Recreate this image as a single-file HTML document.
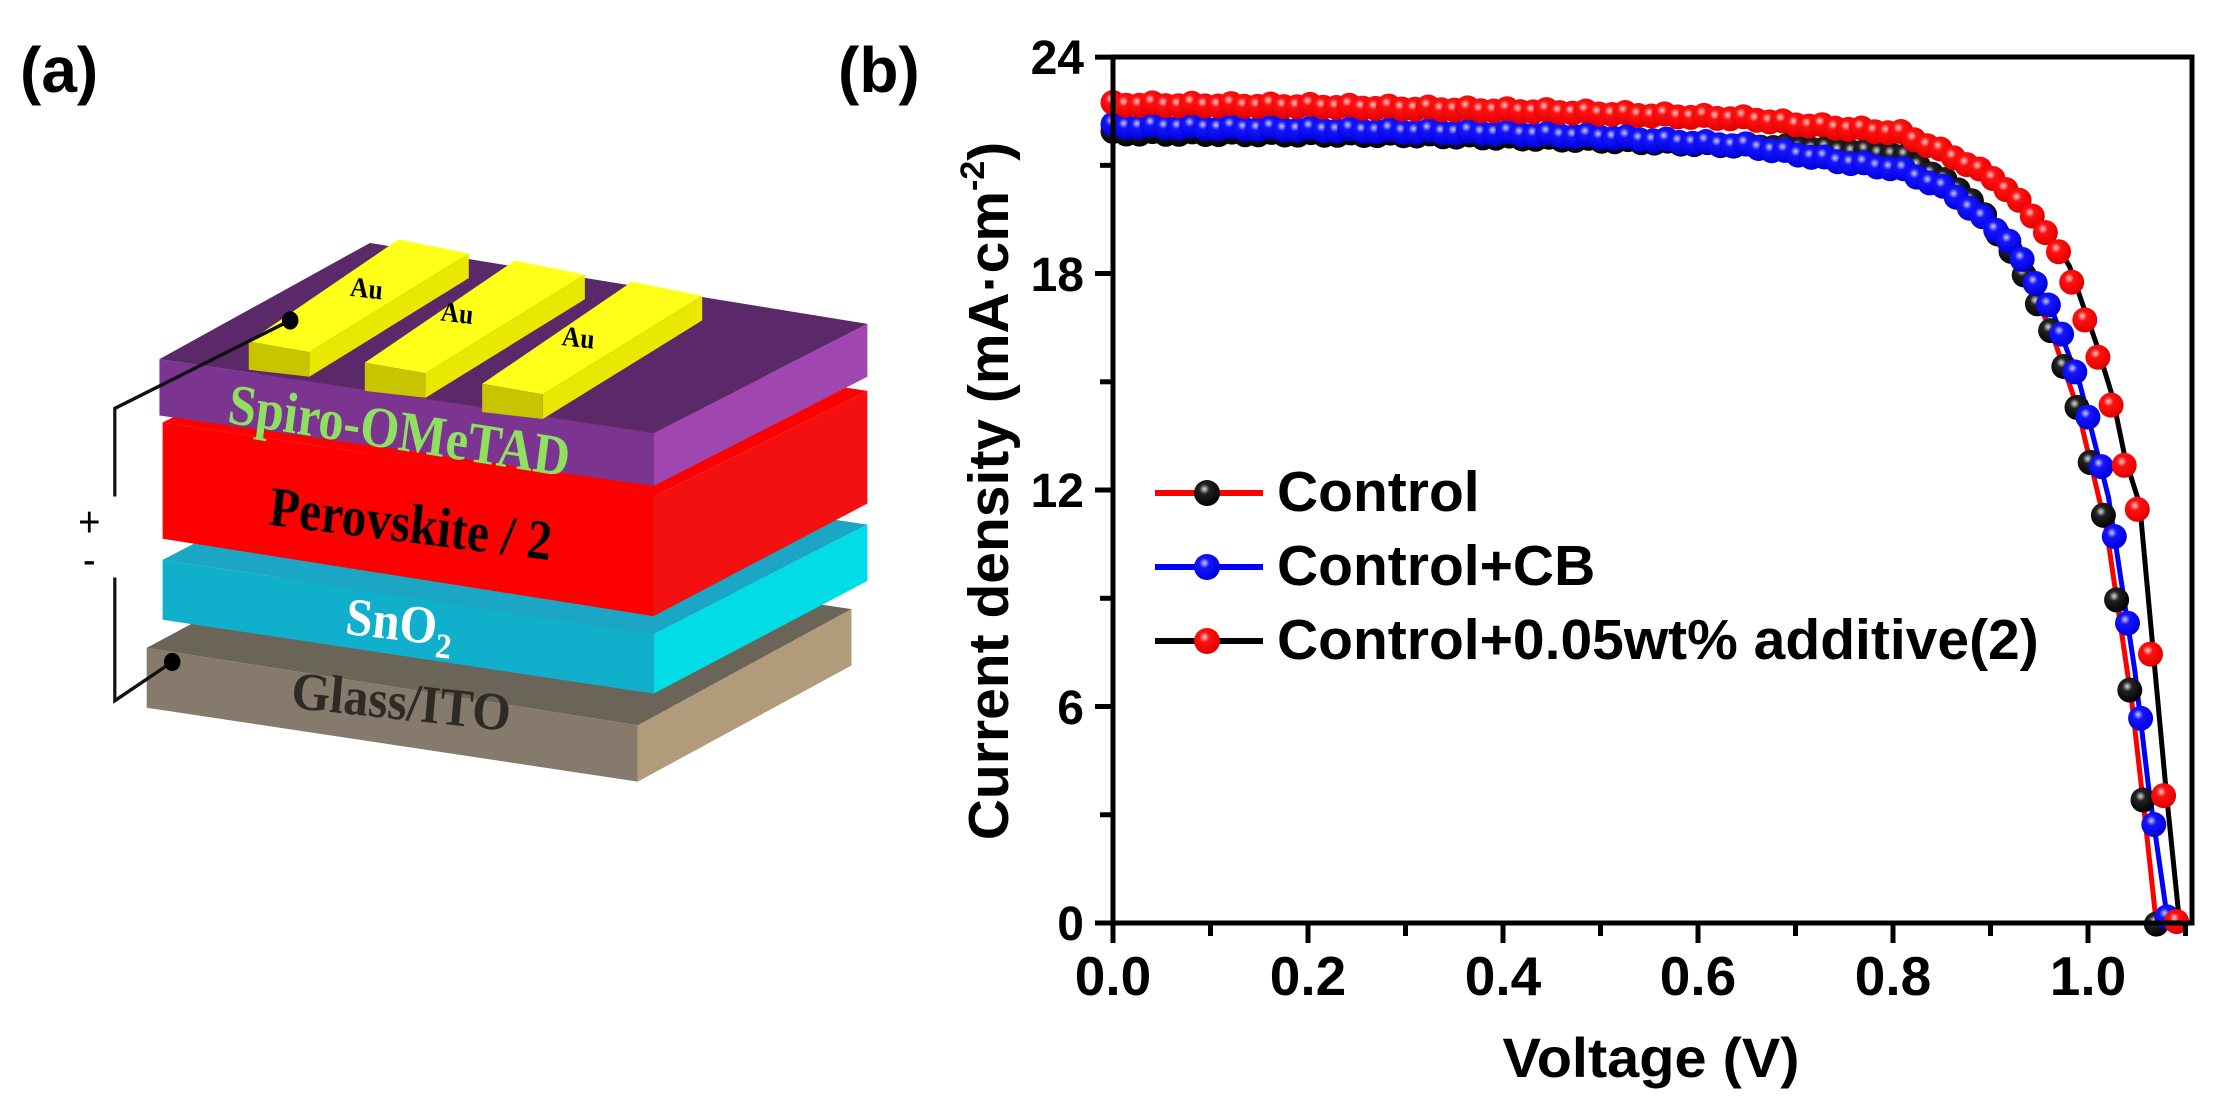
<!DOCTYPE html>
<html><head><meta charset="utf-8"><style>
html,body{margin:0;padding:0;background:#fff;}
svg{display:block;}
</style></head><body>
<svg id="s" width="2229" height="1104" viewBox="0 0 2229 1104" xmlns="http://www.w3.org/2000/svg">
<defs>
<radialGradient id="gk" cx="0.4" cy="0.35" r="0.65"><stop offset="0" stop-color="#ddd"/><stop offset="0.3" stop-color="#222"/><stop offset="1" stop-color="#000"/></radialGradient>
<radialGradient id="gb" cx="0.4" cy="0.35" r="0.65"><stop offset="0" stop-color="#cce"/><stop offset="0.3" stop-color="#1515ff"/><stop offset="1" stop-color="#0000d8"/></radialGradient>
<radialGradient id="gr" cx="0.4" cy="0.35" r="0.65"><stop offset="0" stop-color="#fcc"/><stop offset="0.3" stop-color="#ff1010"/><stop offset="1" stop-color="#e00000"/></radialGradient>
</defs>
<rect width="2229" height="1104" fill="#fff"/>
<text x="20" y="92" font-family="Liberation Sans, sans-serif" font-weight="bold" font-size="64">(a)</text>
<text x="838" y="92" font-family="Liberation Sans, sans-serif" font-weight="bold" font-size="64">(b)</text>

<g transform="scale(0.6378,0.7042)">
  <polygon points="230,920 1000,1030 1335,865 560,760" fill="#6b6459"/>
  <polygon points="230,920 1000,1030 1000,1110 230,1005" fill="#857a6b"/>
  <polygon points="1000,1030 1335,865 1335,945 1000,1110" fill="#b19b7b"/>
  <polygon points="255,795 1025,900 1360,745 585,640" fill="#1aa6c4"/>
  <polygon points="255,795 1025,900 1025,985 255,880" fill="#10afcc"/>
  <polygon points="1025,900 1360,745 1360,825 1025,985" fill="#00dde6"/>
  <polygon points="255,600 1025,705 1360,555 585,450" fill="#ff0000"/>
  <polygon points="255,600 1025,705 1025,875 255,765" fill="#ff0000"/>
  <polygon points="1025,705 1360,555 1360,715 1025,875" fill="#f41010"/>
  <polygon points="250,510 1025,615 1360,460 580,345" fill="#5b2869"/>
  <polygon points="250,510 1025,615 1025,690 250,590" fill="#7b3590"/>
  <polygon points="1025,615 1360,460 1360,535 1025,690" fill="#a046b0"/>
  <g id="bar">
    <polygon points="390,485 485,500 735,360 625,340" fill="#ffff1a"/>
    <polygon points="485,500 735,360 735,395 485,535" fill="#e8e800"/>
    <polygon points="390,485 485,500 485,535 390,525" fill="#c8c400"/>
  </g>
  <use href="#bar" transform="translate(182,30)"/>
  <use href="#bar" transform="translate(366,60)"/>
  <polyline points="455,455 180,580 180,705" fill="none" stroke="#111" stroke-width="5"/>
  <polyline points="180,820 180,995 270,940" fill="none" stroke="#111" stroke-width="5"/>
  <circle cx="455" cy="455" r="13" fill="#000"/>
  <circle cx="270" cy="940" r="13" fill="#000"/>
  <text x="140" y="762" font-family="Liberation Sans, sans-serif" font-size="60" text-anchor="middle">+</text>
  <text x="140" y="815" font-family="Liberation Sans, sans-serif" font-size="60" text-anchor="middle">-</text>
  <g font-family="Liberation Serif, serif" font-weight="bold">
    <text x="548" y="420" font-size="40" transform="rotate(6 548 420)">Au</text>
    <text x="690" y="455" font-size="40" transform="rotate(6 690 455)">Au</text>
    <text x="880" y="490" font-size="40" transform="rotate(6 880 490)">Au</text>
    <text x="355" y="600" font-size="82" fill="#8fe060" textLength="540" lengthAdjust="spacingAndGlyphs" transform="rotate(8.2 355 600)">Spiro-OMeTAD</text>
    <text x="420" y="745" font-size="80" fill="#000" textLength="445" lengthAdjust="spacingAndGlyphs" transform="rotate(6.5 420 745)">Perovskite / 2</text>
    <text x="540" y="900" font-size="76" fill="#fff" transform="rotate(6 540 900)">SnO<tspan font-size="50" dy="18">2</tspan></text>
    <text x="455" y="1005" font-size="76" fill="#2e2a25" textLength="345" lengthAdjust="spacingAndGlyphs" transform="rotate(5.5 455 1005)">Glass/ITO</text>
  </g>
</g>

<g id="series"></g>
<g fill="none" stroke="#000" stroke-width="5">
  <rect x="1113" y="57" width="1079" height="866"/>
</g>
<g id="ticks" stroke="#000" stroke-width="5"></g>
<g font-family="Liberation Sans, sans-serif" font-weight="bold" font-size="48" text-anchor="end">
  <text x="1084" y="74">24</text>
  <text x="1084" y="291">18</text>
  <text x="1084" y="507">12</text>
  <text x="1084" y="724">6</text>
  <text x="1084" y="940">0</text>
</g>
<g font-family="Liberation Sans, sans-serif" font-weight="bold" font-size="55" text-anchor="middle">
  <text x="1113" y="995">0.0</text>
  <text x="1308" y="995">0.2</text>
  <text x="1503" y="995">0.4</text>
  <text x="1698" y="995">0.6</text>
  <text x="1893" y="995">0.8</text>
  <text x="2088" y="995">1.0</text>
</g>
<text x="1651" y="1077" font-family="Liberation Sans, sans-serif" font-weight="bold" font-size="56" text-anchor="middle" textLength="297" lengthAdjust="spacingAndGlyphs">Voltage (V)</text>
<text transform="translate(1008,491) rotate(-90)" font-family="Liberation Sans, sans-serif" font-weight="bold" font-size="57" text-anchor="middle">Current density (mA·cm<tspan font-size="34" dy="-24">-2</tspan><tspan dy="24">)</tspan></text>

<g stroke-width="6">
  <line x1="1155" y1="493" x2="1263" y2="493" stroke="#ff0000"/>
  <line x1="1155" y1="567" x2="1263" y2="567" stroke="#0000ff"/>
  <line x1="1155" y1="641" x2="1263" y2="641" stroke="#000"/>
</g>
<circle cx="1207" cy="493" r="13" fill="url(#gk)"/>
<circle cx="1207" cy="567" r="13" fill="url(#gb)"/>
<circle cx="1207" cy="641" r="13" fill="url(#gr)"/>
<g font-family="Liberation Sans, sans-serif" font-weight="bold" font-size="57">
  <text x="1277" y="511">Control</text>
  <text x="1277" y="585">Control+CB</text>
  <text x="1277" y="659">Control+0.05wt% additive(2)</text>
</g>
</svg>
<script>
(function(){
var NS="http://www.w3.org/2000/svg";
function X(v){return 1113+975*v;}
function Y(j){return 923-36.08*j;}
var blk=[[0,21.9],[0.3,21.85],[0.5,21.7],[0.7,21.5],[0.808,21.3],[0.876,20.2],[0.92,18.7],[0.961,16.5],[0.989,14.3],[1.019,10.9],[1.045,6.1],[1.058,3.0],[1.07,0]];
var blu=[[0,22.1],[0.4,21.9],[0.5,21.8],[0.65,21.55],[0.75,21.1],[0.808,20.9],[0.858,20.3],[0.92,18.9],[0.963,17.0],[0.992,14.9],[1.021,11.8],[1.048,7.0],[1.062,3.8],[1.081,0.2]];
var red=[[0,22.7],[0.2,22.65],[0.45,22.5],[0.6,22.35],[0.653,22.3],[0.7,22.15],[0.808,21.9],[0.858,21.3],[0.907,20.6],[0.951,19.4],[0.978,18.2],[1.005,16.1],[1.022,14.6],[1.035,12.9],[1.05,11.6],[1.064,7.5],[1.077,3.7],[1.091,0]];
function interp(p,v){for(var i=1;i<p.length;i++){if(v<=p[i][0]){var a=p[i-1],b=p[i];return a[1]+(b[1]-a[1])*(v-a[0])/(b[0]-a[0]);}}return p[p.length-1][1];}
var g=document.getElementById("series");
function line(p,col,w){var d="";for(var i=0;i<p.length;i++)d+=(i?"L":"M")+X(p[i][0]).toFixed(1)+","+Y(p[i][1]).toFixed(1);var e=document.createElementNS(NS,"path");e.setAttribute("d",d);e.setAttribute("fill","none");e.setAttribute("stroke",col);e.setAttribute("stroke-width",w);g.appendChild(e);}
function marks(p,grad){var end=p[p.length-1][0];var n=Math.round(end/0.0135);var st=end/n;for(var k=0;k<=n;k++){var v=k*st;var j=interp(p,v)+(k%3==0?0.04:-0.03);var c=document.createElementNS(NS,"circle");c.setAttribute("cx",X(v).toFixed(1));c.setAttribute("cy",Y(j).toFixed(1));c.setAttribute("r","12.5");c.setAttribute("fill","url(#"+grad+")");g.appendChild(c);}}
line(blk,"#ff0000",5);line(blu,"#0000ff",5);line(red.map(function(q){return [q[0]+0.003,q[1]];}),"#000",5);
marks(blk,"gk");marks(blu,"gb");marks(red,"gr");
var t=document.getElementById("ticks");
function tk(x1,y1,x2,y2){var e=document.createElementNS(NS,"line");e.setAttribute("x1",x1);e.setAttribute("y1",y1);e.setAttribute("x2",x2);e.setAttribute("y2",y2);t.appendChild(e);}
for(var i=0;i<=11;i++){var x=X(i*0.1);tk(x,923,x,(i%2==0)?943:936);}
for(var j=0;j<=8;j++){var y=Y(j*3);tk(1113,y,(j%2==0)?1095:1100,y);}
})();
</script>
</body></html>
